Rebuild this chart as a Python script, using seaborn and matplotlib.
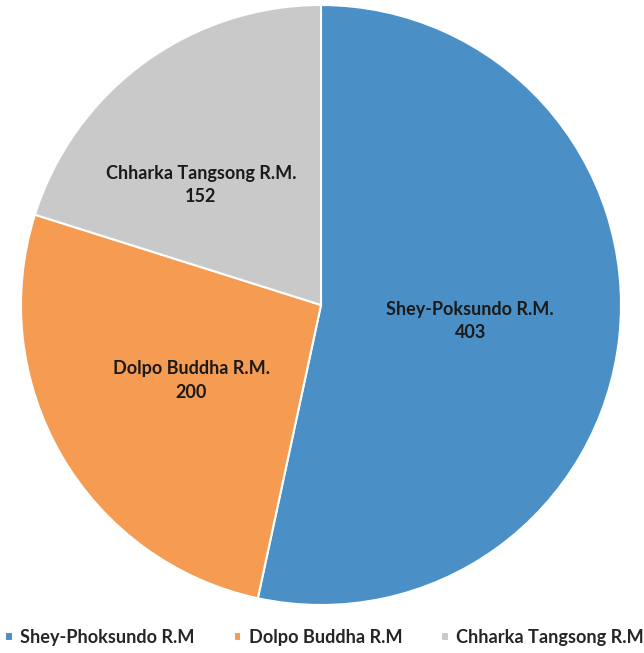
import matplotlib
matplotlib.use("Agg")
import matplotlib.pyplot as plt
import seaborn as sns

sns.set_theme(style="white")
plt.rcParams['font.family'] = ['Lato', 'DejaVu Sans']

categories = ["Shey-Poksundo R.M.", "Dolpo Buddha R.M.", "Chharka Tangsong R.M."]
legend_labels = ["Shey-Phoksundo R.M", "Dolpo Buddha R.M", "Chharka Tangsong R.M"]
values = [403, 200, 152]
colors = ["#4A90C6", "#F59B52", "#C9C9C9"]

fig = plt.figure(figsize=(6.44, 6.53), dpi=100)
ax = fig.add_axes([21/644, 48/653, 600/644, 600/653])
wedges, texts = ax.pie(values, colors=colors, startangle=90, counterclock=False,
                       labels=[f"{c}\n{v}" for c, v in zip(categories, values)],
                       labeldistance=0.5,
                       wedgeprops=dict(edgecolor="white", linewidth=1.5),
                       textprops=dict(fontsize=13, fontweight="bold", color="#1a1a1a",
                                      ha="center", va="center", linespacing=1.45))
texts[2].set_position((-0.40, 0.40))
ax.set_xlim(-1, 1)
ax.set_ylim(-1, 1)
ax.set_aspect("equal")

fig.legend(wedges, legend_labels, loc="lower center", bbox_to_anchor=(0.504, -0.014),
           ncol=3, frameon=False, prop=dict(size=13.1, weight="bold"),
           handlelength=0.42, handleheight=0.42,
           handletextpad=0.4, columnspacing=2.15)
fig.savefig("out.png", dpi=100)
